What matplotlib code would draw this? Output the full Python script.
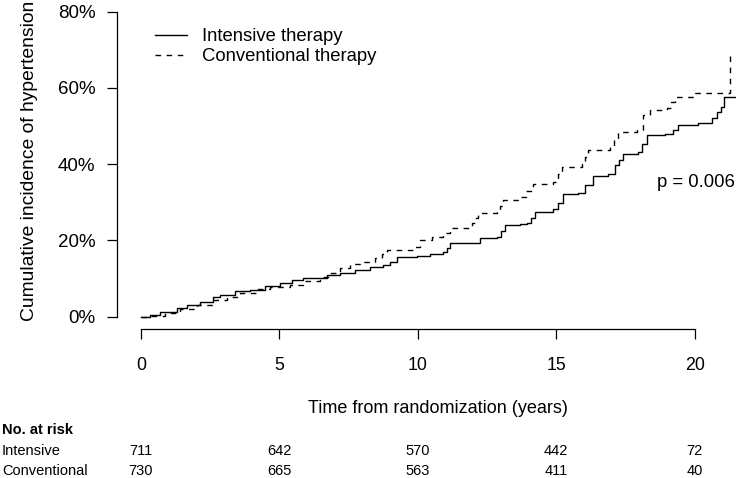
import numpy as np
import matplotlib
matplotlib.use("Agg")
import matplotlib.pyplot as plt

plt.rcParams['font.family'] = ['Liberation Sans', 'DejaVu Sans']

# cumulative incidence (%), step points
int_time = [0, 0.34, 0.70, 1.31, 1.67, 2.14, 2.61, 2.86, 3.40, 3.95, 4.49, 5.03,
            5.46, 5.86, 6.73, 7.19, 7.74, 8.28, 8.75, 9.0, 9.25, 9.97, 10.44, 10.91,
            11.05, 11.17, 12.25, 12.86, 13.0, 13.15, 13.69, 13.95, 14.08, 14.23,
            14.88, 15.06, 15.25, 15.79, 16.04, 16.33, 16.87, 17.12, 17.25, 17.41,
            17.95, 18.1, 18.28, 18.93, 19.2, 19.39, 20.12, 20.63, 20.81, 20.96,
            21.06, 21.45]
int_inc = [0, 0.45, 1.2, 2.3, 3.1, 3.9, 5.2, 5.7, 6.8, 7.0, 8.1, 8.8,
           9.6, 10.2, 10.9, 11.5, 12.2, 13.0, 13.6, 14.3, 15.7, 15.9, 16.4, 17.0,
           18.0, 19.3, 20.6, 20.9, 22.4, 24.1, 24.3, 24.6, 26.0, 27.5,
           28.3, 29.8, 32.2, 32.4, 34.5, 36.9, 37.4, 39.8, 41.2, 42.7,
           43.2, 45.4, 47.7, 47.9, 49.0, 50.3, 50.8, 52.1, 53.7, 55.0,
           57.7, 57.7]

conv_time = [0, 0.34, 0.88, 1.42, 2.03, 2.61, 3.12, 3.58, 4.20, 4.67, 5.39, 5.86,
             6.47, 6.83, 7.19, 7.56, 7.92, 8.46, 8.7, 8.89, 9.83, 10.08, 10.5,
             10.91, 11.17, 11.96, 12.08, 12.18, 12.86, 12.97, 13.08, 13.69, 13.9,
             14.16, 14.88, 15.05, 15.21, 15.93, 16.05, 16.15, 16.94, 17.1, 17.23,
             17.92, 18.13, 18.39, 19.0, 19.15, 19.29, 20.01, 21.28, 21.28]
conv_inc = [0, 0.2, 1.0, 2.0, 3.1, 4.4, 5.2, 6.2, 7.3, 7.8, 8.3, 9.4,
            10.4, 11.5, 12.8, 13.8, 14.4, 15.4, 16.5, 17.5, 18.3, 20.1, 21.0,
            21.9, 23.3, 24.6, 25.9, 27.2, 27.5, 29.0, 30.6, 31.4, 33.0,
            34.8, 35.3, 37.3, 39.3, 40.0, 42.0, 43.7, 44.8, 46.6, 48.4,
            49.0, 52.9, 54.2, 54.7, 56.2, 57.6, 58.7, 58.9, 68.6]

risk_times = [0, 5, 10, 15, 20]
risk_int = [711, 642, 570, 442, 72]
risk_conv = [730, 665, 563, 411, 40]

fig = plt.figure(figsize=(7.36, 4.78), dpi=100)
ax = fig.add_axes([117/736, 149/478, 641.7/736, 329/478])

ax.step(int_time, int_inc, where='post', color='black', lw=1.0,
        label='Intensive therapy', clip_on=False)
ax.step(conv_time, conv_inc, where='post', color='black', lw=1.0,
        linestyle=(0, (4, 4)), label='Conventional therapy', clip_on=False)

ax.set_xlim(-0.858, 22.31)
ax.set_ylim(-3.23, 83.07)

for s in ['top', 'right']:
    ax.spines[s].set_visible(False)
ax.spines['left'].set_bounds(0, 80)
ax.spines['bottom'].set_bounds(0, 20)
ax.spines['left'].set_linewidth(0.9)
ax.spines['bottom'].set_linewidth(0.9)

ax.set_yticks([0, 20, 40, 60, 80])
ax.set_yticklabels(['0%', '20%', '40%', '60%', '80%'])
ax.set_xticks(risk_times)
ax.tick_params(axis='y', length=7, width=0.9, pad=8.5, labelsize=13.5)
ax.tick_params(axis='x', length=7, width=0.9, pad=13, labelsize=12.8)

ax.set_ylabel('Cumulative incidence of hypertension', fontsize=13.9)
ax.yaxis.set_label_coords(-0.123, 0.511)
ax.set_xlabel('Time from randomization (years)', fontsize=13, labelpad=19)

ax.text(18.64, 35.1, 'p = 0.006', fontsize=13.3, ha='left', va='center')

ax.legend(loc='upper left', bbox_to_anchor=(155/736, 1 - 28/478),
          bbox_transform=fig.transFigure, frameon=False, fontsize=13.3,
          handlelength=1.75, handletextpad=0.8, labelspacing=0.17,
          borderpad=0, borderaxespad=0)

# number at risk table
fig.text(2/736, 1 - 430/478, 'No. at risk', fontsize=10.5, fontweight='bold',
         ha='left', va='center')
fig.text(2/736, 1 - 451/478, 'Intensive', fontsize=10.5, ha='left', va='center')
fig.text(2/736, 1 - 471/478, 'Conventional', fontsize=10.5, ha='left', va='center')
for t, a, b in zip(risk_times, risk_int, risk_conv):
    xf = ax.transData.transform((t, 0))[0] / fig.bbox.width
    fig.text(xf, 1 - 451/478, str(a), fontsize=10.5, ha='center', va='center')
    fig.text(xf, 1 - 471/478, str(b), fontsize=10.5, ha='center', va='center')

fig.savefig('out.png', dpi=100)
